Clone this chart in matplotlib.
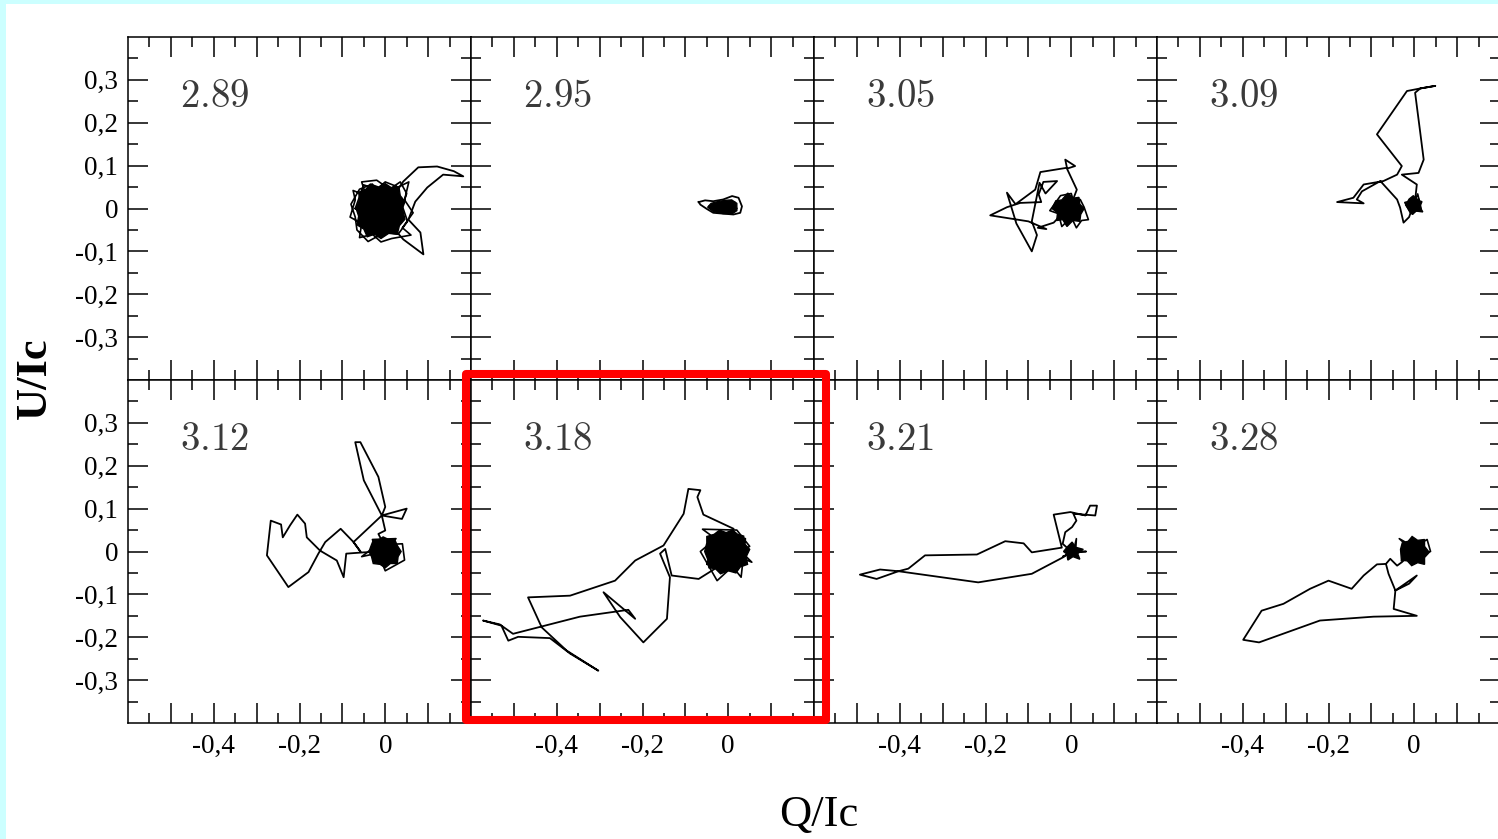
import matplotlib
matplotlib.use("Agg")
import matplotlib.pyplot as plt
from matplotlib.patches import Rectangle

plt.rcParams['font.family'] = ['Liberation Serif', 'DejaVu Serif']
plt.rcParams['mathtext.fontset'] = 'cm'

W, H = 1498, 839

labels = ["2.89", "2.95", "3.05", "3.09", "3.12", "3.18", "3.21", "3.28"]

# (Q/Ic, U/Ic), one trail + one noise ball per panel
trail_289 = [(0.02, 0.03), (0.042, 0.063), (0.077, 0.096), (0.121, 0.098), (0.16, 0.087), (0.182, 0.075),
             (0.135, 0.079), (0.098, 0.049), (0.07, 0.016), (0.054, -0.026), (0.082, -0.056), (0.089, -0.107),
             (0.042, -0.072), (0.028, -0.056), (0.0, -0.03)]
core_289 = [(-0.068, 0.0), (-0.06, 0.02), (-0.062, 0.038), (-0.045, 0.045), (-0.035, 0.057), (-0.015, 0.05),
            (0.0, 0.058), (0.015, 0.048), (0.032, 0.05), (0.035, 0.03), (0.046, 0.016), (0.04, 0.0),
            (0.046, -0.025), (0.033, -0.04), (0.028, -0.06), (0.008, -0.058), (-0.01, -0.07), (-0.025, -0.06),
            (-0.042, -0.066), (-0.05, -0.048), (-0.066, -0.038), (-0.062, -0.018)]
ball_289 = [(-0.07, 0.0), (-0.05, 0.055), (-0.02, 0.045), (0.0, 0.062), (0.03, 0.05), (0.055, 0.062),
            (0.045, 0.02), (0.065, -0.01), (0.04, -0.045), (0.06, -0.062), (0.015, -0.07), (-0.01, -0.078),
            (-0.03, -0.06), (-0.06, -0.068), (-0.055, -0.035), (-0.082, -0.02), (-0.07, 0.02), (-0.075, 0.042),
            (-0.045, 0.03), (-0.055, 0.062), (-0.02, 0.066), (0.01, 0.045), (0.035, 0.062), (0.05, 0.035),
            (0.04, 0.005), (0.052, -0.03), (0.03, -0.06), (0.0, -0.055), (-0.04, -0.077), (-0.066, -0.05),
            (-0.07, -0.02), (-0.08, 0.01), (-0.06, 0.045), (-0.03, 0.057), (-0.01, 0.02), (0.03, -0.02),
            (-0.03, -0.03), (-0.07, 0.0)]

trail_295 = [(-0.069, 0.015), (-0.054, 0.019), (-0.035, 0.017), (-0.012, 0.021), (0.009, 0.029), (0.024, 0.025),
             (0.032, 0.005), (0.028, -0.01), (0.012, -0.014), (-0.012, -0.012), (-0.035, -0.01), (-0.05, -0.001),
             (-0.065, 0.009), (-0.069, 0.015)]
core_295 = [(-0.048, 0.003), (-0.04, 0.012), (-0.025, 0.016), (-0.008, 0.019), (0.008, 0.02), (0.02, 0.012),
            (0.02, -0.005), (0.01, -0.012), (-0.012, -0.012), (-0.035, -0.007)]
ball_295 = [(-0.045, 0.005), (0.015, 0.015), (-0.02, -0.01), (0.02, 0.0)]

trail_305 = [(-0.005, 0.005), (-0.041, -0.033), (-0.078, -0.045), (-0.058, -0.048), (-0.1, -0.03), (-0.189, -0.016),
             (-0.15, 0.003), (-0.119, 0.013), (-0.07, 0.015), (-0.076, 0.033), (-0.065, 0.062), (-0.033, 0.064),
             (-0.06, 0.035), (-0.074, 0.06), (-0.082, 0.02), (-0.092, -0.03), (-0.08, -0.062), (-0.092, -0.1),
             (-0.128, -0.035), (-0.15, 0.037), (-0.13, 0.01), (-0.084, 0.044), (-0.072, 0.085), (-0.01, 0.095),
             (-0.014, 0.114), (0.009, 0.099), (-0.01, 0.093), (0.013, 0.044), (0.0, 0.01)]
core_305 = [(-0.045, 0.0), (-0.036, 0.018), (-0.022, 0.02), (-0.008, 0.036), (0.004, 0.024), (0.018, 0.026),
            (0.02, 0.01), (0.03, 0.0), (0.022, -0.014), (0.02, -0.03), (0.004, -0.028), (-0.01, -0.042),
            (-0.02, -0.026), (-0.034, -0.028), (-0.032, -0.01)]
ball_305 = [(-0.03, 0.01), (0.021, 0.021), (0.03, 0.003), (0.04, -0.026), (0.024, -0.028), (0.012, -0.045),
            (0.0, -0.02), (-0.022, -0.042), (-0.03, -0.012), (-0.05, -0.005), (-0.025, 0.03), (0.0, 0.035),
            (0.01, 0.0)]

trail_309 = [(0.0, 0.0), (0.006, 0.056), (-0.029, 0.079), (0.01, 0.083), (0.022, 0.114), (0.014, 0.177),
             (0.002, 0.27), (0.014, 0.28), (0.049, 0.286), (0.014, 0.28), (-0.017, 0.274), (-0.087, 0.173),
             (-0.029, 0.099), (-0.04, 0.079), (-0.072, 0.064), (-0.118, 0.056), (-0.142, 0.025), (-0.18, 0.015),
             (-0.118, 0.012), (-0.134, 0.021), (-0.122, 0.04), (-0.079, 0.064), (-0.04, 0.021), (-0.033, 0.002),
             (-0.025, -0.033), (-0.012, -0.02), (-0.005, 0.0)]
core_309 = [(-0.02, 0.008), (-0.012, 0.022), (-0.002, 0.03), (0.006, 0.02), (0.018, 0.016), (0.013, 0.004),
            (0.02, -0.008), (0.004, -0.006), (-0.004, -0.014), (-0.012, -0.004)]
ball_309 = [(-0.002, 0.008), (0.008, 0.034), (0.016, 0.0), (-0.008, -0.012), (-0.022, 0.014), (0.01, 0.022),
            (-0.002, 0.008)]

trail_312 = [(0.0, 0.0), (-0.05, -0.002), (-0.091, -0.005), (-0.097, -0.06), (-0.113, -0.021), (-0.152, 0.002),
             (-0.183, 0.033), (-0.187, 0.065), (-0.205, 0.086), (-0.222, 0.061), (-0.239, 0.033), (-0.243, 0.063),
             (-0.267, 0.072), (-0.276, -0.009), (-0.226, -0.083), (-0.179, -0.048), (-0.156, -0.005),
             (-0.14, 0.022), (-0.104, 0.053), (-0.074, 0.022), (-0.058, 0.0), (-0.074, 0.022), (-0.008, 0.084),
             (0.05, 0.1), (0.039, 0.076), (-0.008, 0.084), (0.0, 0.104), (-0.016, 0.174), (-0.058, 0.255),
             (-0.07, 0.255), (-0.05, 0.166), (-0.008, 0.084), (0.0, 0.049), (-0.016, 0.041), (0.0, 0.01)]
core_312 = [(-0.038, 0.0), (-0.032, 0.016), (-0.028, 0.026), (-0.014, 0.028), (-0.005, 0.034), (0.008, 0.028),
            (0.022, 0.028), (0.028, 0.014), (0.037, 0.0), (0.03, -0.012), (0.028, -0.028), (0.012, -0.028),
            (0.0, -0.038), (-0.012, -0.03), (-0.028, -0.028), (-0.032, -0.012)]
ball_312 = [(0.0, 0.0), (-0.055, -0.012), (-0.02, 0.015), (0.04, 0.018), (0.045, -0.02), (0.0, -0.045),
            (-0.03, 0.028), (0.025, 0.03), (0.0, 0.0)]

trail_318 = [(-0.011, 0.002), (0.0125, 0.053), (-0.058, 0.086), (-0.072, 0.127), (-0.065, 0.143), (-0.093, 0.146),
             (-0.104, 0.088), (-0.151, 0.014), (-0.217, -0.021), (-0.264, -0.068), (-0.369, -0.103),
             (-0.467, -0.107), (-0.435, -0.177), (-0.377, -0.231), (-0.303, -0.278), (-0.369, -0.238),
             (-0.416, -0.202), (-0.49, -0.199), (-0.513, -0.208), (-0.529, -0.173), (-0.572, -0.161),
             (-0.533, -0.17), (-0.502, -0.192), (-0.346, -0.152), (-0.233, -0.136), (-0.217, -0.157),
             (-0.291, -0.095), (-0.252, -0.153), (-0.198, -0.212), (-0.143, -0.157), (-0.136, -0.06),
             (-0.159, -0.005), (-0.147, 0.006), (-0.132, -0.056), (-0.069, -0.064), (-0.026, -0.037),
             (-0.011, 0.002)]
core_318 = [(-0.055, 0.0), (-0.05, 0.02), (-0.05, 0.035), (-0.033, 0.04), (-0.02, 0.05), (-0.005, 0.044),
            (0.01, 0.05), (0.022, 0.04), (0.036, 0.036), (0.038, 0.018), (0.05, 0.005), (0.042, -0.012),
            (0.045, -0.03), (0.028, -0.036), (0.018, -0.05), (0.0, -0.045), (-0.018, -0.052), (-0.03, -0.04),
            (-0.045, -0.038), (-0.048, -0.018)]
ball_318 = [(-0.011, 0.002), (0.055, -0.025), (0.03, 0.0), (0.05, 0.012), (0.02, 0.05), (-0.06, 0.052),
            (-0.03, 0.03), (-0.065, 0.0), (-0.026, -0.068), (0.01, -0.035), (0.03, -0.06), (0.04, 0.03),
            (-0.02, 0.045), (-0.05, -0.03), (-0.011, 0.002)]

trail_321 = [(0.0, 0.0), (-0.018, -0.013), (-0.092, -0.052), (-0.217, -0.072), (-0.403, -0.046), (-0.454, -0.064),
             (-0.493, -0.054), (-0.446, -0.042), (-0.403, -0.046), (-0.38, -0.04), (-0.341, -0.009),
             (-0.22, -0.007), (-0.154, 0.024), (-0.111, 0.019), (-0.092, -0.002), (-0.022, 0.009),
             (-0.041, 0.086), (-0.002, 0.092), (0.033, 0.084), (0.044, 0.107), (0.06, 0.107), (0.056, 0.084),
             (0.005, 0.088), (0.012, 0.072), (0.002, 0.057), (-0.014, 0.045), (-0.02, 0.018), (0.0, 0.0)]
core_321 = [(-0.018, 0.0), (-0.008, 0.012), (0.002, 0.022), (0.01, 0.01), (0.028, 0.005), (0.015, -0.005),
            (0.02, -0.018), (0.004, -0.012), (-0.008, -0.02), (-0.01, -0.006)]
ball_321 = [(0.005, 0.0), (0.012, 0.03), (0.01, 0.0), (0.035, 0.0), (0.005, -0.002), (-0.02, -0.012), (0.005, 0.0)]

trail_328 = [(-0.002, 0.0), (-0.029, -0.025), (-0.04, -0.033), (-0.056, -0.017), (-0.066, -0.029),
             (-0.087, -0.03), (-0.118, -0.056), (-0.146, -0.087), (-0.2, -0.068), (-0.243, -0.087),
             (-0.305, -0.122), (-0.356, -0.138), (-0.399, -0.206), (-0.362, -0.212), (-0.22, -0.161),
             (-0.095, -0.152), (0.006, -0.15), (-0.048, -0.134), (-0.044, -0.091), (0.006, -0.056),
             (-0.012, -0.075), (-0.044, -0.091), (-0.06, -0.052), (-0.066, -0.029)]
core_328 = [(-0.032, 0.005), (-0.028, 0.02), (-0.014, 0.024), (-0.005, 0.035), (0.008, 0.026), (0.024, 0.028),
            (0.024, 0.012), (0.035, -0.002), (0.024, -0.014), (0.024, -0.03), (0.008, -0.026), (-0.006, -0.033),
            (-0.016, -0.022), (-0.03, -0.02)]
ball_328 = [(-0.002, 0.0), (-0.035, 0.03), (0.0, 0.01), (0.03, 0.028), (0.038, 0.0), (0.0, -0.01),
            (-0.03, -0.022), (-0.002, 0.0)]

trails = [trail_289, trail_295, trail_305, trail_309, trail_312, trail_318, trail_321, trail_328]
cores = [core_289, core_295, core_305, core_309, core_312, core_318, core_321, core_328]
balls = [ball_289, ball_295, ball_305, ball_309, ball_312, ball_318, ball_321, ball_328]

x_major = [-0.5, -0.4, -0.3, -0.2, -0.1, 0.0, 0.1]
x_minor = [-0.55, -0.45, -0.35, -0.25, -0.15, -0.05, 0.05, 0.15]
x_ticklabels = ["", "-0,4", "", "-0,2", "", "0", ""]
y_major = [-0.3, -0.2, -0.1, 0.0, 0.1, 0.2, 0.3]
y_minor = [-0.35, -0.25, -0.15, -0.05, 0.05, 0.15, 0.25, 0.35]
y_ticklabels = ["-0,3", "-0,2", "-0,1", "0", "0,1", "0,2", "0,3"]

fig = plt.figure(figsize=(W / 100, H / 100), dpi=100, facecolor="#ccffff")
fig.patches.append(Rectangle((6 / W, 0), 1, 1 - 4 / H, transform=fig.transFigure,
                             facecolor="white", edgecolor="none", zorder=-10))

x_left = [128, 471, 814, 1157]
y_top = [37, 380]
pw, ph = 343, 343

for i in range(8):
    row, col = divmod(i, 4)
    ax = fig.add_axes([x_left[col] / W, 1 - (y_top[row] + ph) / H, pw / W, ph / H])
    cq, cu = zip(*cores[i])
    ax.fill(cq, cu, color="black", lw=1)
    bq, bu = zip(*balls[i])
    ax.plot(bq, bu, color="black", lw=1.2)
    tq, tu = zip(*trails[i])
    ax.plot(tq, tu, color="black", lw=1.3)

    ax.set_xlim(-0.6, 0.2)
    ax.set_ylim(-0.4, 0.4)
    ax.set_xticks(x_major)
    ax.set_xticks(x_minor, minor=True)
    ax.set_yticks(y_major)
    ax.set_yticks(y_minor, minor=True)
    if row == 1:
        ax.set_xticklabels(x_ticklabels, fontsize=19.5)
    else:
        ax.set_xticklabels([])
    if col == 0:
        ax.set_yticklabels(y_ticklabels, fontsize=19.5)
    else:
        ax.set_yticklabels([])
    ax.tick_params(which="both", direction="in", top=True, right=True, width=1.1, color="black")
    ax.tick_params(which="major", length=14.4)
    ax.tick_params(which="minor", length=7.2)
    ax.tick_params(axis="y", pad=7)
    ax.tick_params(axis="x", pad=8)
    for s in ax.spines.values():
        s.set_linewidth(1.1)

    ax.text(0.152, 0.795, r"$\mathrm{%s}$" % labels[i], transform=ax.transAxes,
            fontsize=28, color="#3a3a3a", ha="left", va="baseline")

fig.text(35 / W, 1 - 378 / H, "U/Ic", rotation=90, fontsize=32, fontweight="bold",
         ha="center", va="center")
fig.text(819 / W, 1 - 815 / H, "Q/Ic", fontsize=32, ha="center", va="center")

# highlight box around the 3.18 panel
fig.patches.append(Rectangle((465.5 / W, 1 - 720 / H), 360.5 / W, 346 / H, transform=fig.transFigure,
                             fill=False, edgecolor="#ff0000", lw=5.8, joinstyle="round", zorder=10))

fig.savefig("out.png", dpi=100, facecolor=fig.get_facecolor())
